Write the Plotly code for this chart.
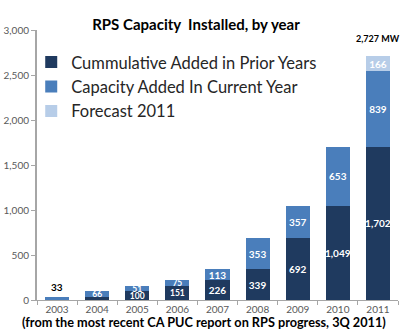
import plotly.graph_objects as go

years = ["2003", "2004", "2005", "2006", "2007", "2008", "2009", "2010", "2011"]
prior = [0, 33, 100, 151, 226, 339, 692, 1049, 1702]
current = [33, 66, 51, 75, 113, 353, 357, 653, 839]
forecast = [0, 0, 0, 0, 0, 0, 0, 0, 166]
y_ticks = [0, 500, 1000, 1500, 2000, 2500, 3000]
total_label = "2,727 MW"

DARK = "#1F3A5F"
MED = "#4A7EBB"
LIGHT = "#B7CDE8"
FONT = "Lato"

def lab(vals, skip_first=False):
    out = []
    for i, v in enumerate(vals):
        if v == 0 or (skip_first and i == 0):
            out.append("")
        else:
            out.append(f"{v:,}")
    return out

# smaller label text on the short early bars
label_sizes = [8.5, 8.5, 8.5, 8.5, 10, 10, 10, 10, 10]

common = dict(textposition="inside", insidetextanchor="middle", constraintext="none",
              textangle=0,
              textfont=dict(color="white", size=label_sizes, family=FONT, weight="bold"))

fig = go.Figure()
fig.add_trace(go.Bar(x=years, y=prior, name="Cummulative Added in Prior Years",
                     marker=dict(color=DARK, line=dict(width=0)),
                     text=["", ""] + lab(prior[2:]), **common))
fig.add_trace(go.Bar(x=years, y=current, name="Capacity Added In Current Year",
                     marker=dict(color=MED, line=dict(width=0)),
                     text=lab(current, skip_first=True), **common))
fig.add_trace(go.Bar(x=years, y=forecast, name="Forecast 2011",
                     marker=dict(color=LIGHT, line=dict(width=0)),
                     text=lab(forecast), **common))

totals = [p + c + f for p, c, f in zip(prior, current, forecast)]
fig.add_annotation(x=0, y=totals[0], text=f"{current[0]:,}", showarrow=False,
                   yanchor="bottom", yshift=2,
                   font=dict(size=10, color="black", family=FONT, weight="bold"))
fig.add_annotation(x=len(years) - 1, y=totals[-1], text=total_label, showarrow=False,
                   yanchor="bottom", yshift=10,
                   font=dict(size=9, color="black", family=FONT, weight="bold"))
fig.add_annotation(x=(204 - 37) / 361, xref="paper", y=-0.081, yref="paper",
                   text="<b>(from the most recent CA PUC report on RPS progress, 3Q 2011)</b>",
                   showarrow=False, xanchor="center", yanchor="middle",
                   font=dict(size=12.7, color="black", family=FONT))

fig.update_layout(
    width=400, height=333,
    margin=dict(l=37, r=2, t=30, b=33),
    barmode="stack", bargap=0.4,
    paper_bgcolor="white", plot_bgcolor="white",
    font=dict(family=FONT, color="#595959"),
    title=dict(text="<b>RPS Capacity  Installed, by year</b>", x=0.49, xanchor="center",
               y=1 - 25 / 333, yanchor="middle", yref="container",
               font=dict(size=15, color="black", family=FONT)),
    showlegend=True,
    legend=dict(x=-0.016, y=0.945, xanchor="left", yanchor="top", traceorder="normal",
                bgcolor="rgba(0,0,0,0)", font=dict(size=16.5, color="#262626", family=FONT),
                itemwidth=30, tracegroupgap=0),
    xaxis=dict(type="category", range=[-0.5, len(years) - 0.5], showline=True,
               linecolor="#A6A6A6", linewidth=1,
               ticks="outside", tickson="boundaries", ticklen=4, tickcolor="#A6A6A6",
               tickfont=dict(size=10, color="#595959", family=FONT), showgrid=False),
    yaxis=dict(range=[0, 3000], tickvals=y_ticks, tickformat=",", showline=True,
               linecolor="#A6A6A6", linewidth=2, ticks="outside", ticklen=4,
               tickcolor="#A6A6A6", showgrid=False, zeroline=False,
               tickfont=dict(size=10, color="#595959", family=FONT)),
)

fig.write_html("out.html")
